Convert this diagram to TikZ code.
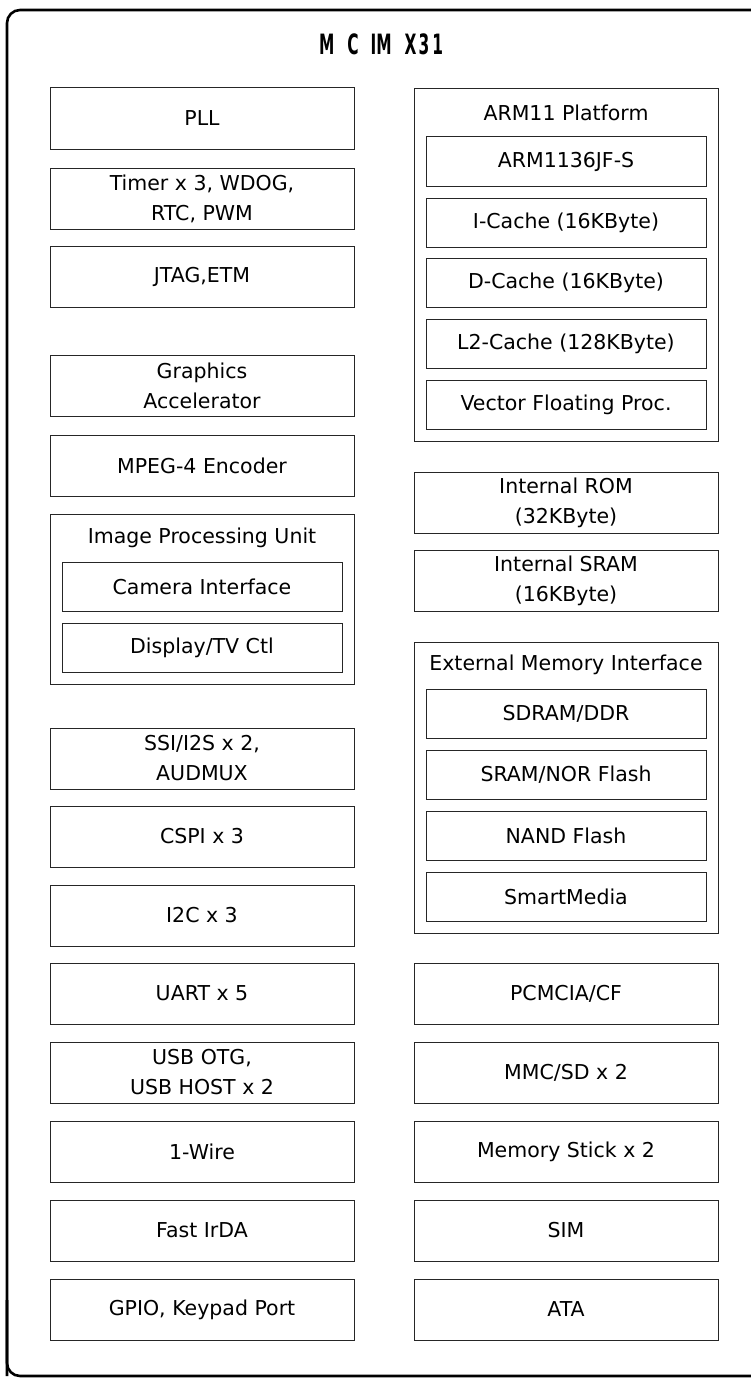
\documentclass[tikz,border=0pt]{standalone}
\usepackage{graphicx}
\usepackage{fontspec}
\setmainfont{DejaVu Sans}
\newcommand\ttlglyph[1]{\scalebox{0.55}[1]{#1}}
\begin{document}
\begin{tikzpicture}[x=1pt,y=-1pt,
  box/.style={draw=black!85,line width=1pt,inner sep=0pt,align=center,
    minimum width=304pt,minimum height=61pt,
    font=\fontsize{20.5}{30}\selectfont},
  inbox/.style={box,minimum width=280pt,minimum height=49pt},
  lbl/.style={inner sep=0pt,font=\fontsize{20.5}{30}\selectfont},
  frame/.style={draw=black,line width=2.6pt,rounded corners=13pt}]
\useasboundingbox (0,0) rectangle (751,1378);
\draw[frame] (7,1376) -- (7,10) -- (780,10);
\draw[frame] (7,1300) -- (7,1376) -- (780,1376);
\node[inner sep=0pt,font=\bfseries\fontsize{28}{30}\selectfont] (title) at (381,44)
  {\ttlglyph{M}\hspace{13pt}\ttlglyph{C}\hspace{12pt}\ttlglyph{IM}\hspace{13pt}\ttlglyph{X}\hspace{2pt}\ttlglyph{3}\hspace{3pt}\ttlglyph{1}};
% left column
\node[box] (pll) at (202,118.5) {PLL};
\node[box] (timer) at (202,198.5) {Timer x 3, WDOG,\\RTC, PWM};
\node[box] (jtag) at (202,277) {JTAG,ETM};
\node[box] (gfx) at (202,385.5) {Graphics\\Accelerator};
\node[box] (mpeg) at (202,465.5) {MPEG-4 Encoder};
\node[box,minimum height=170pt] (ipu) at (202,599) {};
\node[lbl] (iput) at (202,538) {Image Processing Unit};
\node[inbox] (cam) at (202,587) {Camera Interface};
\node[inbox] (disp) at (202,647.5) {Display/TV Ctl};
\node[box] (ssi) at (202,758.5) {SSI/I2S x 2,\\AUDMUX};
\node[box] (cspi) at (202,836.5) {CSPI x 3};
\node[box] (i2c) at (202,915.5) {I2C x 3};
\node[box] (uart) at (202,993.5) {UART x 5};
\node[box] (usb) at (202,1072.5) {USB OTG,\\USB HOST x 2};
\node[box] (wire) at (202,1151.5) {1-Wire};
\node[box] (irda) at (202,1230.5) {Fast IrDA};
\node[box] (gpio) at (202,1309.5) {GPIO, Keypad Port};
% right column
\node[box,minimum height=352pt] (arm) at (566,265) {};
\node[lbl] (armt) at (566,113) {ARM11 Platform};
\node[inbox] (core) at (566,161.5) {ARM1136JF-S};
\node[inbox] (icache) at (566,222.5) {I-Cache (16KByte)};
\node[inbox] (dcache) at (566,283) {D-Cache (16KByte)};
\node[inbox] (ltwo) at (566,343.5) {L2-Cache (128KByte)};
\node[inbox] (vfp) at (566,404.5) {Vector Floating Proc.};
\node[box] (rom) at (566,502.5) {Internal ROM\\(32KByte)};
\node[box] (sram) at (566,580.5) {Internal SRAM\\(16KByte)};
\node[box,minimum height=291pt] (emi) at (566,787.5) {};
\node[lbl] (emit) at (566,665) {External Memory Interface};
\node[inbox] (sdram) at (566,714) {SDRAM/DDR};
\node[inbox] (nor) at (566,775) {SRAM/NOR Flash};
\node[inbox] (nand) at (566,835.5) {NAND Flash};
\node[inbox] (smart) at (566,896.5) {SmartMedia};
\node[box] (pcmcia) at (566,993.5) {PCMCIA/CF};
\node[box] (mmc) at (566,1072.5) {MMC/SD x 2};
\node[box] (mstick) at (566,1151.5) {Memory Stick x 2};
\node[box] (sim) at (566,1230.5) {SIM};
\node[box] (ata) at (566,1309.5) {ATA};
\end{tikzpicture}
\end{document}
